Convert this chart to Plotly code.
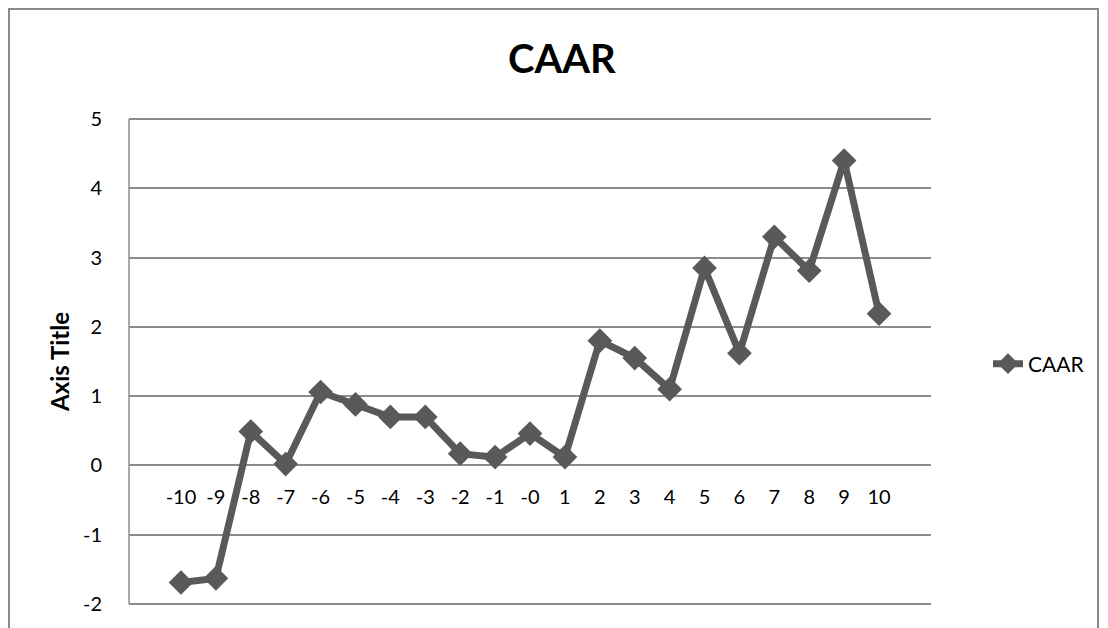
import plotly.graph_objects as go

categories = ["-10", "-9", "-8", "-7", "-6", "-5", "-4", "-3", "-2", "-1", "-0",
              "1", "2", "3", "4", "5", "6", "7", "8", "9", "10"]
caar = [-1.69, -1.63, 0.49, 0.02, 1.06, 0.88, 0.70, 0.70, 0.17, 0.12, 0.46,
        0.12, 1.80, 1.55, 1.10, 2.85, 1.62, 3.30, 2.81, 4.40, 2.19]
y_ticks = [-2, -1, 0, 1, 2, 3, 4, 5]
y_tick_text = ["-2", "-1", "0", "1", "2", "3", "4", "5"]

FONT = "Lato"
LINE_COLOR = "#595959"
GRID = "#8c8c8c"

# page body has an 8px margin; figure is drawn inside it
OFF = 8
PAD = 3  # extra pixels above/below the outer gridlines so they are drawn
UNIT = (604 - 119) / 7.0
EXT = PAD / UNIT
Y_LO, Y_HI = -2 - EXT, 5 + EXT

W, H = 1108 - OFF, 628 - OFF
L, T = 129 - OFF, 119 - PAD - OFF
R = W - (931 - OFF)
B = H - (604 + PAD - OFF)
pw = W - L - R
ph = H - T - B

def px_x(px):
    return (px - OFF - L) / pw

def px_y(py):
    return (H - B - (py - OFF)) / ph

fig = go.Figure()
fig.add_trace(go.Scatter(
    x=categories, y=caar, name="CAAR", mode="lines+markers",
    line=dict(color=LINE_COLOR, width=7),
    marker=dict(symbol="diamond", size=19, color=LINE_COLOR),
))

fig.update_layout(
    width=W, height=H,
    margin=dict(l=L, r=R, t=T, b=B),
    paper_bgcolor="white", plot_bgcolor="white",
    font=dict(family=FONT, size=20, color="black"),
    showlegend=True,
    legend=dict(x=px_x(988), y=px_y(364), xanchor="left", yanchor="middle",
                font=dict(family=FONT, size=21, color="black"),
                bgcolor="rgba(0,0,0,0)"),
    xaxis=dict(type="category", anchor="free",
               position=(0 - Y_LO) / (Y_HI - Y_LO),
               showgrid=False, showline=False, zeroline=False,
               ticks="outside", ticklen=14, tickcolor="rgba(0,0,0,0)",
               tickfont=dict(family=FONT, size=20)),
    yaxis=dict(range=[Y_LO, Y_HI], tickvals=y_ticks, ticktext=y_tick_text,
               showgrid=True,
               gridcolor=GRID, gridwidth=1.5, zeroline=True,
               zerolinecolor=GRID, zerolinewidth=1.5,
               showline=False,
               ticks="outside", ticklen=22, tickcolor="rgba(0,0,0,0)",
               tickfont=dict(family=FONT, size=20)),
)

# vertical value-axis line spanning 5 .. -2
fig.add_shape(type="line", xref="paper", yref="y", x0=0, x1=0,
              y0=y_ticks[0], y1=y_ticks[-1],
              line=dict(color=GRID, width=1.5))

fig.add_annotation(text="<b>CAAR</b>", xref="paper", yref="paper",
                   x=px_x(562), y=px_y(58), xanchor="center", yanchor="middle",
                   showarrow=False,
                   font=dict(family=FONT, size=40, color="black"))
fig.add_annotation(text="<b>Axis Title</b>", xref="paper", yref="paper",
                   x=px_x(59), y=px_y(362), xanchor="center", yanchor="middle",
                   showarrow=False, textangle=-90,
                   font=dict(family=FONT, size=24, color="black"))
fig.add_shape(type="rect", xref="paper", yref="paper",
              x0=px_x(9), x1=px_x(1098), y0=px_y(660), y1=px_y(9),
              line=dict(color="#8a8a8a", width=2), layer="below")

fig.write_html("out.html")
